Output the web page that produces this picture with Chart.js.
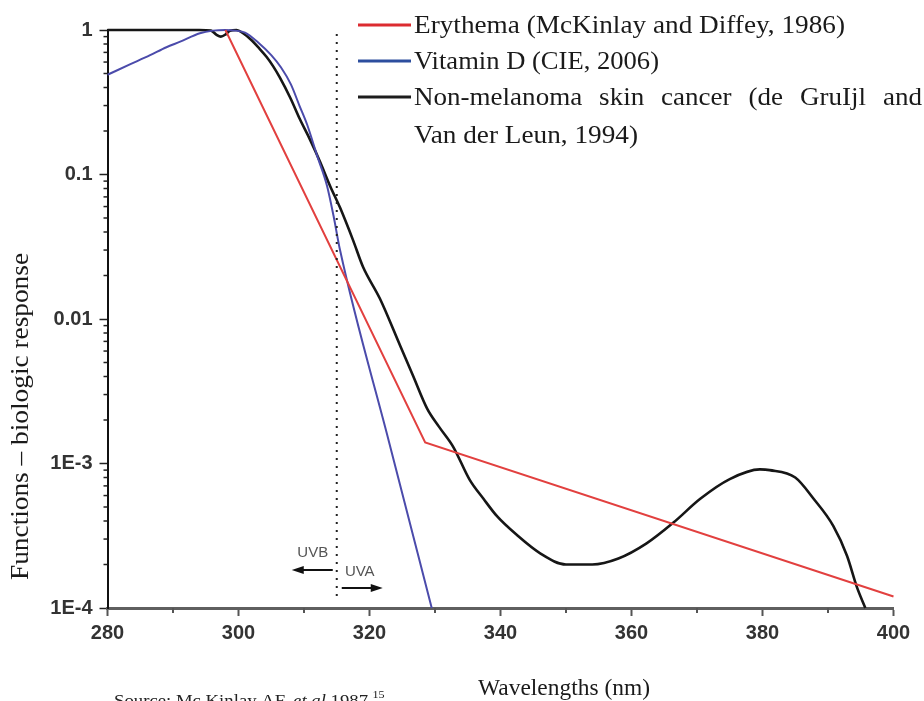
<!DOCTYPE html>
<html><head><meta charset="utf-8">
<script src="https://cdn.jsdelivr.net/npm/chart.js@4.4.1/dist/chart.umd.min.js"></script>
<style>html,body{margin:0;padding:0;background:#fff;}#wrap{position:relative;width:924px;height:701px;}</style>
</head><body><div id="wrap"><canvas id="c" width="924" height="701"></canvas></div>
<script>
// ---- data ----
const wavelengthTicks = [280, 300, 320, 340, 360, 380, 400];
const wavelengthMinorTicks = [290, 310, 330, 350, 370, 390];
const yTickValues = [1e-4, 1e-3, 1e-2, 0.1, 1];
const yTickLabels = ['1E-4', '1E-3', '0.01', '0.1', '1'];

const erythemaWl  = [298, 328.5, 400];
const erythemaVal = [1, 0.0014, 0.00012];

const vitDWl  = [280, 283.5, 286.5, 289, 291.1, 294.1, 296.1, 298, 299.5, 301, 303, 305, 306.5, 308, 309.3, 310.5, 312, 313.5, 314.5, 315.5, 323, 329.5];
const vitDVal = [0.49, 0.58, 0.67, 0.76, 0.83, 0.95, 0.99, 1.0, 0.99, 0.96, 0.82, 0.67, 0.55, 0.42, 0.3, 0.22, 0.135, 0.084, 0.052, 0.03, 0.0014, 0.0001];

const nmscWl  = [280, 294, 295.8, 296.6, 297.3, 298, 298.7, 299.7, 300.7, 302, 303, 304.3, 305.3, 306.3, 307.9, 309.4, 310.9, 312.4, 314, 315.5, 317.5, 319, 321.6, 324.7, 326.6, 328.8, 330.6, 332.8, 335.3, 337.4, 339.5, 342.5, 346, 350, 354, 358, 362.3, 366.4, 370.5, 375, 379.6, 381.1, 385, 387.8, 390.8, 392.9, 394.4, 395.7];
const nmscVal = [1, 1, 0.99, 0.93, 0.9, 0.93, 0.99, 1.0, 0.95, 0.85, 0.76, 0.65, 0.56, 0.47, 0.34, 0.24, 0.175, 0.124, 0.083, 0.059, 0.035, 0.023, 0.0138, 0.0065, 0.0041, 0.0024, 0.0018, 0.0013, 0.00077, 0.00057, 0.00043, 0.00032, 0.00024, 0.0002, 0.0002, 0.00022, 0.00028, 0.00039, 0.00057, 0.00078, 0.00091, 0.0009, 0.0008, 0.00057, 0.00037, 0.00023, 0.00014, 0.0001];

const legendLabels = ['Erythema (McKinlay and Diffey, 1986)', 'Vitamin D (CIE, 2006)', 'Non-melanoma skin cancer (de GruIjl and Van der Leun, 1994)'];
const xTitle = 'Wavelengths (nm)';
const yTitle = 'Functions \u2013 biologic response';
const uvBoundary = 315;
const uvbLabel = 'UVB';
const uvaLabel = 'UVA';
const sourceParts = ['Source: Mc Kinlay AF, ', 'et al', ' 1987', '15'];

// ---- helpers ----
const toPts = (xs, ys) => xs.map((x, i) => ({x: x, y: ys[i]}));
const SERIF = '"Liberation Serif", "Times New Roman", serif';
const SANS = '"Liberation Sans", Arial, sans-serif';

function fitText(ctx, text, x, y, font, w, color) {
  ctx.save();
  ctx.font = font; ctx.fillStyle = color || '#1a1a1a';
  ctx.textAlign = 'left'; ctx.textBaseline = 'alphabetic';
  const m = ctx.measureText(text).width;
  ctx.translate(x, y); ctx.scale(w / m, 1);
  ctx.fillText(text, 0, 0);
  ctx.restore();
}
function arrow(ctx, x1, x2, y) {
  const dir = Math.sign(x2 - x1);
  ctx.save();
  ctx.strokeStyle = '#111'; ctx.fillStyle = '#111'; ctx.lineWidth = 2;
  ctx.beginPath(); ctx.moveTo(x1, y); ctx.lineTo(x2 - dir * 8, y); ctx.stroke();
  ctx.beginPath(); ctx.moveTo(x2, y); ctx.lineTo(x2 - dir * 12, y - 4); ctx.lineTo(x2 - dir * 12, y + 4); ctx.closePath(); ctx.fill();
  ctx.restore();
}

const extras = {
  id: 'extras',
  afterDraw(chart) {
    const ctx = chart.ctx;
    const xs = chart.scales.x, ys = chart.scales.y;
    const area = chart.chartArea;
    ctx.save();
    // minor x ticks
    ctx.strokeStyle = '#555'; ctx.lineWidth = 2;
    wavelengthMinorTicks.forEach(v => {
      const px = Math.round(xs.getPixelForValue(v));
      ctx.beginPath(); ctx.moveTo(px, area.bottom); ctx.lineTo(px, area.bottom + 5); ctx.stroke();
    });
    // minor y ticks
    ctx.strokeStyle = '#222'; ctx.lineWidth = 1.5;
    for (let k = 0; k < yTickValues.length - 1; k++) {
      for (let m = 2; m <= 9; m++) {
        const py = ys.getPixelForValue(m * yTickValues[k]);
        ctx.beginPath(); ctx.moveTo(area.left - 4, py); ctx.lineTo(area.left, py); ctx.stroke();
      }
    }
    // dotted UVB/UVA boundary
    const bx = xs.getPixelForValue(uvBoundary);
    ctx.strokeStyle = '#222'; ctx.lineWidth = 2; ctx.setLineDash([2, 6]);
    ctx.beginPath(); ctx.moveTo(bx, area.top + 4); ctx.lineTo(bx, area.bottom - 10); ctx.stroke();
    ctx.setLineDash([]);
    ctx.restore();

    // UVB / UVA labels and arrows
    ctx.save();
    ctx.font = '15px ' + SANS; ctx.fillStyle = '#555'; ctx.textAlign = 'center'; ctx.textBaseline = 'middle';
    ctx.fillText(uvbLabel, bx - 24, area.bottom - 55);
    ctx.fillText(uvaLabel, bx + 23, area.bottom - 36);
    ctx.restore();
    arrow(ctx, bx - 4, bx - 45, area.bottom - 38);
    arrow(ctx, bx + 5, bx + 46, area.bottom - 20);

    // axis titles
    fitText(ctx, xTitle, 478, 695, '23px ' + SERIF, 172);
    ctx.save();
    ctx.translate(28, 580); ctx.rotate(-Math.PI / 2);
    fitText(ctx, yTitle, 0, 0, '26px ' + SERIF, 327);
    ctx.restore();

    // source line
    ctx.save();
    const fN = '17px ' + SERIF, fI = 'italic 17px ' + SERIF;
    ctx.font = fN; const w0 = ctx.measureText(sourceParts[0]).width, w2 = ctx.measureText(sourceParts[2]).width;
    ctx.font = fI; const w1 = ctx.measureText(sourceParts[1]).width;
    const s = 254 / (w0 + w1 + w2);
    ctx.translate(114, 706); ctx.scale(s, 1); ctx.fillStyle = '#222';
    ctx.font = fN; ctx.fillText(sourceParts[0], 0, 0);
    ctx.font = fI; ctx.fillText(sourceParts[1], w0, 0);
    ctx.font = fN; ctx.fillText(sourceParts[2], w0 + w1, 0);
    ctx.font = '11px ' + SERIF; ctx.fillText(sourceParts[3], w0 + w1 + w2 + 4, -8);
    ctx.restore();

    // legend
    const legColors = ['#dc2b30', '#2d4e9e', '#1c1c1c'];
    const lineYs = [25, 61, 97];
    const fontL = '26px ' + SERIF;
    ctx.save();
    ctx.lineWidth = 3;
    lineYs.forEach((y, i) => {
      ctx.strokeStyle = legColors[i];
      ctx.beginPath(); ctx.moveTo(358, y); ctx.lineTo(411, y); ctx.stroke();
    });
    ctx.restore();
    fitText(ctx, legendLabels[0], 414, lineYs[0] + 8, fontL, 431);
    fitText(ctx, legendLabels[1], 414, lineYs[1] + 8, fontL, 245);
    const words = legendLabels[2].split(' ');
    const line1 = words.slice(0, 6), line2 = words.slice(6).join(' ');
    ctx.save();
    ctx.font = fontL; ctx.fillStyle = '#1a1a1a'; ctx.textBaseline = 'alphabetic';
    const sx = 1.04;
    const ws = line1.map(w => ctx.measureText(w).width * sx);
    const gap = (922 - 414 - ws.reduce((a, b) => a + b, 0)) / (line1.length - 1);
    let cx = 414;
    line1.forEach((w, i) => {
      ctx.save(); ctx.translate(cx, lineYs[2] + 8); ctx.scale(sx, 1); ctx.fillText(w, 0, 0); ctx.restore();
      cx += ws[i] + gap;
    });
    ctx.restore();
    fitText(ctx, line2, 414, lineYs[2] + 46, fontL, 224);
  }
};

new Chart(document.getElementById('c').getContext('2d'), {
  type: 'line',
  data: {
    datasets: [
      {label: legendLabels[0], data: toPts(erythemaWl, erythemaVal), borderColor: '#e2403f', borderWidth: 2, pointRadius: 0, tension: 0, clip: false},
      {label: legendLabels[1], data: toPts(vitDWl, vitDVal), borderColor: '#4b4bab', borderWidth: 2, pointRadius: 0, cubicInterpolationMode: 'monotone', clip: false},
      {label: legendLabels[2], data: toPts(nmscWl, nmscVal), borderColor: '#161616', borderWidth: 2.6, pointRadius: 0, cubicInterpolationMode: 'monotone', clip: false}
    ]
  },
  options: {
    responsive: false, animation: false, devicePixelRatio: 1,
    layout: {padding: {top: 30, right: 30.5, left: 0, bottom: 0}},
    plugins: {legend: {display: false}, tooltip: {enabled: false}},
    scales: {
      x: {
        type: 'linear', min: 280, max: 400,
        afterBuildTicks: s => { s.ticks = wavelengthTicks.map(v => ({value: v})); },
        grid: {drawOnChartArea: false, drawTicks: true, tickLength: 8, tickColor: '#555', tickWidth: 2},
        border: {display: true, color: '#5f5f5f', width: 3},
        ticks: {font: {family: SANS, size: 20, weight: 'bold'}, color: '#333', padding: 5, maxRotation: 0, autoSkip: false},
        afterFit: s => { s.height = 93; }
      },
      y: {
        type: 'logarithmic', min: 1e-4, max: 1,
        afterBuildTicks: s => { s.ticks = yTickValues.map(v => ({value: v})); },
        grid: {drawOnChartArea: false, drawTicks: true, tickLength: 8, tickColor: '#222', tickWidth: 1.5},
        border: {display: true, color: '#111', width: 2},
        ticks: {
          font: {family: SANS, size: 20, weight: 'bold'}, color: '#333', padding: 7, autoSkip: false,
          callback: (v) => { const i = yTickValues.findIndex(t => Math.abs(t - v) / t < 1e-6); return i >= 0 ? yTickLabels[i] : ''; }
        },
        afterFit: s => { s.width = 107.5; }
      }
    }
  },
  plugins: [extras]
});
</script></body></html>
